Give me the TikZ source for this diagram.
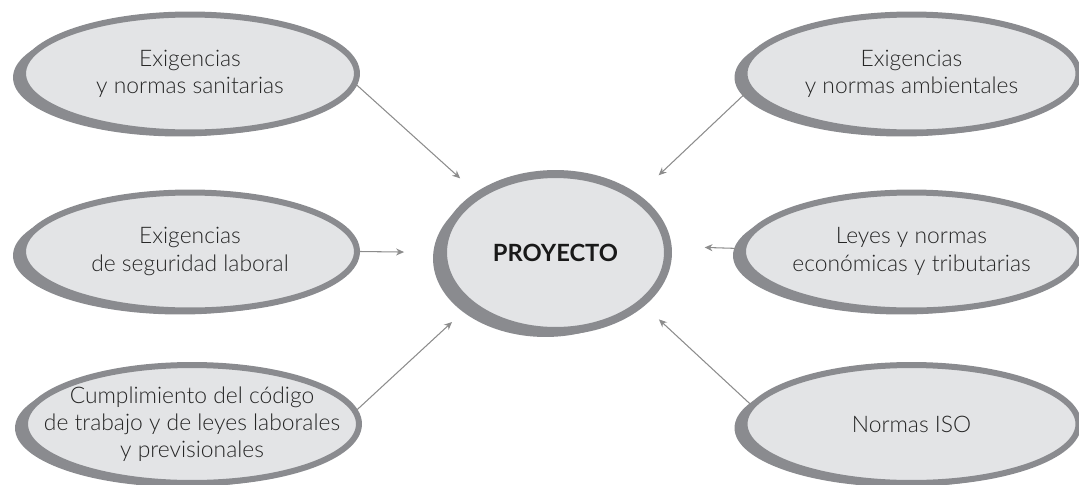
\documentclass[tikz,border=0pt]{standalone}
\usepackage{fontspec}
\setmainfont{Lato}
\newfontfamily\ligera{Lato Light}
\usetikzlibrary{shapes.geometric, arrows.meta, shadows}
\definecolor{rimgray}{RGB}{138,139,143}
\definecolor{fillgray}{RGB}{227,228,230}
\definecolor{arrowgray}{RGB}{140,140,140}

\begin{document}
\begin{tikzpicture}[x=0.02cm, y=-0.02cm,
  tema/.style={ellipse, fill=fillgray, draw=rimgray, line width=0.12cm,
    minimum width=6.68cm, minimum height=2.36cm, inner sep=0pt,
    align=center, text=black!85, font=\ligera\fontsize{13}{15.5}\selectfont,
    drop shadow={shadow xshift=-0.2cm, shadow yshift=-0.08cm,
      fill=rimgray, opacity=1}},
  centro/.style={ellipse, fill=fillgray, draw=rimgray, line width=0.16cm,
    minimum width=4.5cm, minimum height=3.14cm, inner sep=0pt,
    text=black!90, font=\fontsize{13.5}{16}\selectfont\bfseries,
    drop shadow={shadow xshift=-0.2cm, shadow yshift=-0.12cm,
      fill=rimgray, opacity=1}},
  flecha/.style={draw=arrowgray, line width=0.6pt,
    -{Stealth[length=4.5pt, width=4pt]}}]
  \useasboundingbox (0,0) rectangle (1079,484);

  % centre
  \node[centro] (proy) at (555.5,252.5) {PROYECTO};

  % left column
  \node[tema] (sanit) at (190,73.5) {Exigencias\\y normas sanitarias};
  \node[tema] (segur) at (190,251.5) {Exigencias\\de seguridad laboral};
  \node[tema, inner xsep=-0.7cm] (codigo) at (192,424)
    {Cumplimiento del código\\de trabajo y de leyes laborales\\y previsionales};

  % right column
  \node[tema] (amb) at (911.5,73.5) {Exigencias\\y normas ambientales};
  \node[tema] (leyes) at (911.5,251.5) {Leyes y normas\\económicas y tributarias};
  \node[tema] (iso) at (911.5,424) {Normas ISO};

  % arrows
  \draw[flecha, shorten >=0.42cm] (sanit.-4) -- (proy.143);
  \draw[flecha, shorten >=0.7cm] (segur.east) -- (proy.180);
  \draw[flecha, shorten >=0.44cm] (codigo.5) -- (proy.212);
  \draw[flecha, shorten >=0.56cm] (amb.186) -- (proy.35);
  \draw[flecha, shorten >=0.66cm] (leyes.179) -- (proy.3);
  \draw[flecha, shorten >=0.4cm] (iso.173.5) -- (proy.-31);
\end{tikzpicture}
\end{document}
